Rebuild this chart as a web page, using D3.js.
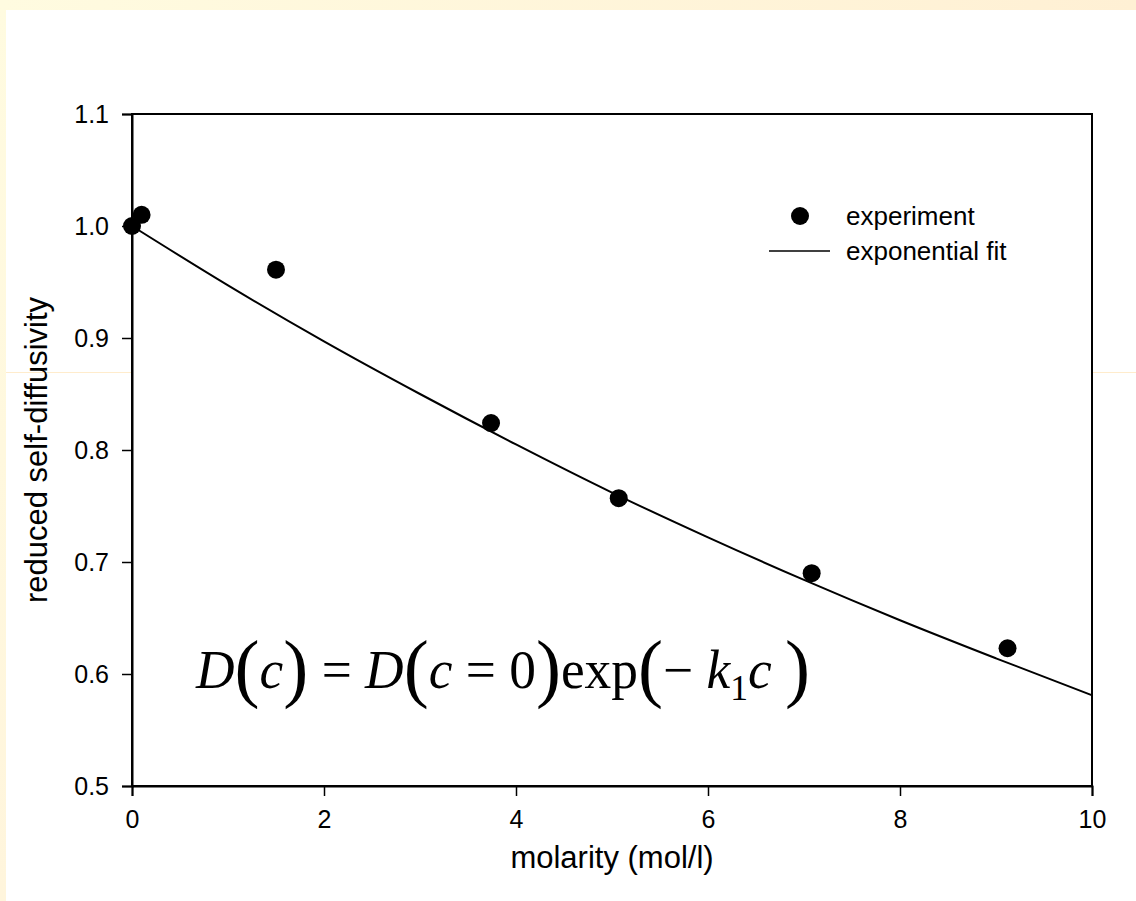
<!DOCTYPE html>
<html>
<head>
<meta charset="utf-8">
<script src="https://cdn.jsdelivr.net/npm/d3@7"></script>
<style>
  html, body { margin: 0; padding: 0; background: #fff; }
  svg { display: block; }
  text { font-family: "Liberation Sans", Arial, sans-serif; fill: #000; }
</style>
</head>
<body>
<svg id="chart" width="1136" height="901"></svg>
<script>
// experiment points
var molarity = [0, 0.1, 1.5, 3.74, 5.07, 7.08, 9.12];
var diffusivity = [1.0, 1.01, 0.961, 0.824, 0.757, 0.690, 0.623];

// exponential fit
var fitC = [0, 1, 2, 3, 4, 5, 6, 7, 8, 9, 10];
var fitD = [1.0, 0.947, 0.897, 0.850, 0.805, 0.762, 0.722, 0.684, 0.648, 0.614, 0.581];

var xTicks = [0, 2, 4, 6, 8, 10];
var yTicks = [0.5, 0.6, 0.7, 0.8, 0.9, 1.0, 1.1];

var W = 1136, H = 901;
var pL = 132, pR = 1092, pT = 114, pB = 786;

var svg = d3.select("#chart");

// slide background
var defs = svg.append("defs");
var grad = defs.append("linearGradient").attr("id", "topband")
  .attr("x1", 0).attr("x2", 1).attr("y1", 0).attr("y2", 0);
grad.append("stop").attr("offset", 0).attr("stop-color", "#fffbe0");
grad.append("stop").attr("offset", 1).attr("stop-color", "#fff0d4");
var grad2 = defs.append("linearGradient").attr("id", "leftband")
  .attr("x1", 0).attr("x2", 0).attr("y1", 0).attr("y2", 1);
grad2.append("stop").attr("offset", 0).attr("stop-color", "#fffbe0");
grad2.append("stop").attr("offset", 1).attr("stop-color", "#fff5dc");

svg.append("rect").attr("width", W).attr("height", H).attr("fill", "#fff");
svg.append("rect").attr("width", W).attr("height", 10).attr("fill", "url(#topband)");
svg.append("rect").attr("width", 6).attr("height", H).attr("fill", "url(#leftband)");
svg.append("line").attr("x1", 6).attr("x2", W).attr("y1", 372.5).attr("y2", 372.5)
  .attr("stroke", "#ffeccc").attr("stroke-width", 1);

var x = d3.scaleLinear().domain([0, 10]).range([pL, pR]);
var y = d3.scaleLinear().domain([0.5, 1.1]).range([pB, pT]);

// plot frame
svg.append("rect")
  .attr("x", x(0)).attr("y", y(1.1))
  .attr("width", x(10) - x(0)).attr("height", y(0.5) - y(1.1))
  .attr("fill", "#fff").attr("stroke", "#000").attr("stroke-width", 2);

var xAxis = svg.append("g")
  .attr("transform", "translate(0," + pB + ")")
  .call(d3.axisBottom(x).tickValues(xTicks).tickSize(10).tickPadding(14).tickFormat(d3.format("d")));
var yAxis = svg.append("g")
  .attr("transform", "translate(" + pL + ",0)")
  .call(d3.axisLeft(y).tickValues(yTicks).tickSize(10).tickPadding(13).tickFormat(d3.format(".1f")));

[xAxis, yAxis].forEach(function(g) {
  g.select(".domain").attr("stroke-width", 2);
  g.selectAll(".tick line").attr("stroke-width", 1.5);
  g.selectAll("text").style("font-family", "Liberation Sans, Arial, sans-serif")
    .style("font-size", "25px").attr("fill", "#000");
});

// fit line
var line = d3.line()
  .x(function(d, i) { return x(fitC[i]); })
  .y(function(d) { return y(d); })
  .curve(d3.curveMonotoneX);

svg.append("path")
  .datum(fitD)
  .attr("d", line)
  .attr("fill", "none")
  .attr("stroke", "#000")
  .attr("stroke-width", 2);

svg.selectAll(".pt")
  .data(molarity)
  .enter().append("circle")
  .attr("class", "pt")
  .attr("cx", function(d) { return x(d); })
  .attr("cy", function(d, i) { return y(diffusivity[i]); })
  .attr("r", 9)
  .attr("fill", "#000");

// legend
var legend = svg.append("g");
legend.append("circle").attr("cx", 800).attr("cy", 216).attr("r", 9).attr("fill", "#000");
legend.append("text").attr("x", 846).attr("y", 225).style("font-size", "26px").text("experiment");
legend.append("line").attr("x1", 769).attr("x2", 830).attr("y1", 251).attr("y2", 251)
  .attr("stroke", "#000").attr("stroke-width", 1.5);
legend.append("text").attr("x", 846).attr("y", 260).style("font-size", "26px").text("exponential fit");

// axis titles
svg.append("text")
  .attr("x", (pL + pR) / 2).attr("y", 868)
  .attr("text-anchor", "middle")
  .style("font-size", "31px")
  .text("molarity (mol/l)");

svg.append("text")
  .attr("transform", "translate(47,450) rotate(-90)")
  .attr("text-anchor", "middle")
  .style("font-size", "31px")
  .text("reduced self-diffusivity");

// equation
var eq = svg.append("text")
  .attr("x", 0).attr("y", 0)
  .style("font-family", "Liberation Serif, Times New Roman, serif")
  .style("font-size", "54px");

var parts = [
  ["D", "italic", 54], ["(", "normal", 76], ["c", "italic", 54], [")", "normal", 76],
  [" = ", "normal", 54], ["D", "italic", 54], ["(", "normal", 76], ["c", "italic", 54],
  [" = 0", "normal", 54], [")", "normal", 76], ["exp", "normal", 54], ["(", "normal", 76],
  ["\u2212 ", "normal", 54], ["k", "italic", 54], ["1", "sub", 36], ["c", "italic", 54],
  [" ", "normal", 54], [")", "normal", 76]
];
parts.forEach(function(p, i) {
  var dy = 0;
  if (p[1] == "sub") dy += 12;
  if (i > 0 && parts[i - 1][1] == "sub") dy -= 12;
  if (p[2] == 76) dy += 5;
  if (i > 0 && parts[i - 1][2] == 76) dy -= 5;
  eq.append("tspan")
    .style("font-size", p[2] + "px")
    .style("font-style", p[1] == "italic" ? "italic" : "normal")
    .attr("fill", "#000")
    .attr("dy", dy)
    .text(p[0]);
});
var len = eq.node().getComputedTextLength();
var sx = (810 - 196) / len;
eq.attr("transform", "translate(196,688) scale(" + sx + ",1)");
</script>
</body>
</html>
